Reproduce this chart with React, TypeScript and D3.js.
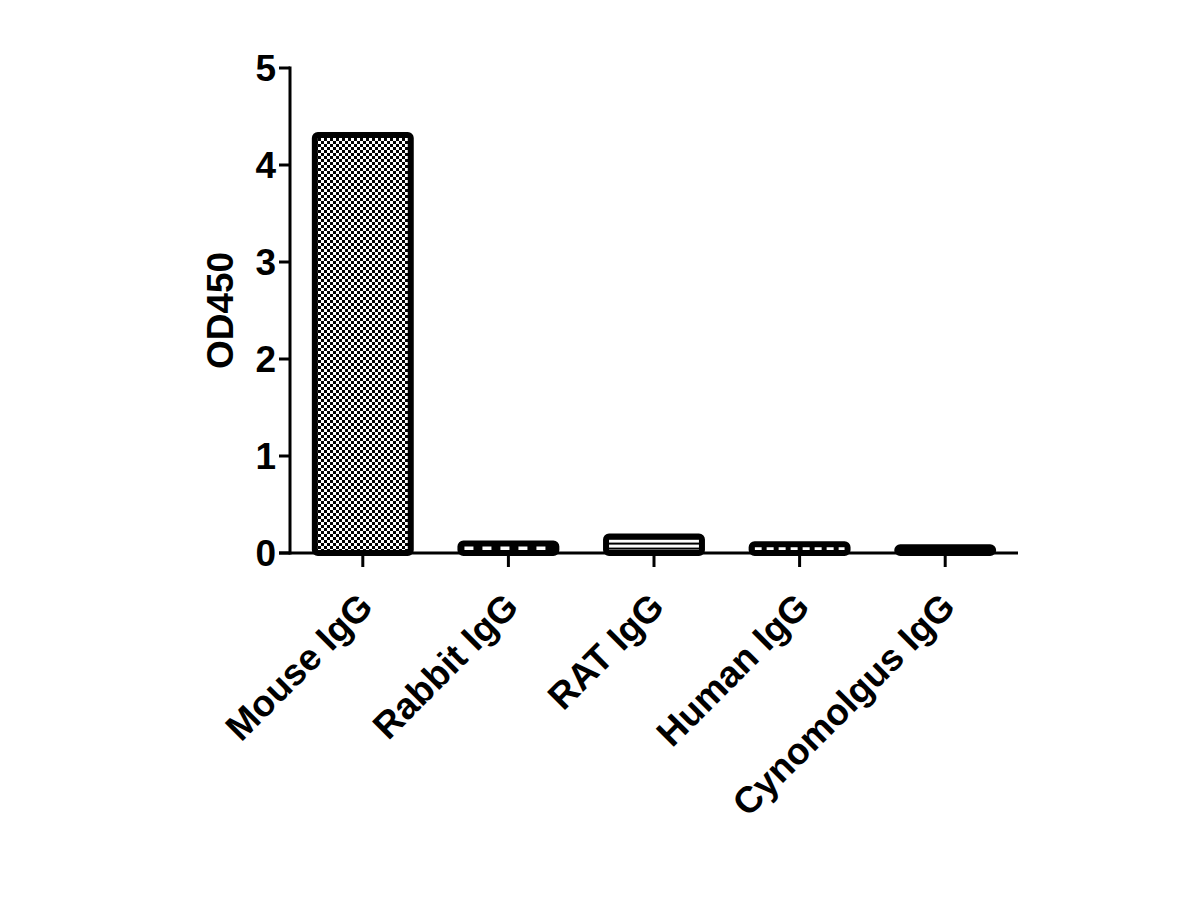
import React from "react";
import * as d3 from "d3";

const categories = ["Mouse IgG", "Rabbit IgG", "RAT IgG", "Human IgG", "Cynomolgus IgG"];
const values = [4.34, 0.13, 0.2, 0.12, 0.09];
const yTicks = [0, 1, 2, 3, 4, 5];
const patterns = ["checker", "dashWide", "stripes", "dashNarrow", "solid"];

export default function App() {
  const W = 1200, H = 900;
  const x0 = 290, x1 = 1018, y0 = 553, y1 = 68;
  const x = d3.scaleBand<string>().domain(categories).range([x0, x1]).paddingInner(0.3).paddingOuter(0.15);
  const y = d3.scaleLinear().domain([0, 5]).range([y0, y1]);
  const font = "'Liberation Sans', Arial, sans-serif";
  const sw = 6;
  const fs = 37;

  const fillFor = (p: string) => (p === "solid" ? "#000" : `url(#${p})`);

  return (
    <svg width={W} height={H} style={{ position: "absolute", left: 0, top: 0, background: "#fff" }}>
      <defs>
        <pattern id="checker" width={6} height={6} patternUnits="userSpaceOnUse">
          <rect width={6} height={6} fill="#fff" />
          <rect x={0} y={0} width={3} height={3} fill="#000" />
          <rect x={3} y={3} width={3} height={3} fill="#000" />
        </pattern>
        <pattern id="dashWide" width={18} height={40} patternUnits="userSpaceOnUse" x={x(categories[1])! + 3}>
          <rect width={18} height={40} fill="#000" />
          <rect x={4} y={0} width={9} height={40} fill="#fff" />
        </pattern>
        <pattern id="stripes" width={20} height={5} patternUnits="userSpaceOnUse" y={y(values[2]) + 1}>
          <rect width={20} height={5} fill="#fff" />
          <rect x={0} y={3} width={20} height={2} fill="#000" />
        </pattern>
        <pattern id="dashNarrow" width={12} height={40} patternUnits="userSpaceOnUse" x={x(categories[3])! + 3}>
          <rect width={12} height={40} fill="#000" />
          <rect x={3} y={0} width={7} height={40} fill="#fff" />
        </pattern>
      </defs>

      {categories.map((c, i) => {
        const bx = x(c)!;
        const bw = x.bandwidth();
        const top = y(values[i]);
        return (
          <rect
            key={c}
            x={bx + sw / 2}
            y={top + sw / 2}
            width={bw - sw}
            height={Math.max(0.5, y0 - top - sw / 2)}
            fill={fillFor(patterns[i])}
            stroke="#000"
            strokeWidth={sw}
            rx={3}
          />
        );
      })}

      {/* y axis */}
      <line x1={x0} x2={x0} y1={y1 - 1.5} y2={y0 + 1.5} stroke="#000" strokeWidth={3} />
      {yTicks.map((t) => (
        <g key={t}>
          <line x1={x0 - 11} x2={x0} y1={y(t)} y2={y(t)} stroke="#000" strokeWidth={3} />
          <text x={x0 - 14} y={y(t)} dy="0.36em" textAnchor="end" fontFamily={font} fontWeight="bold" fontSize={fs}>
            {t}
          </text>
        </g>
      ))}
      <text
        transform={`translate(233, ${(y0 + y1) / 2}) rotate(-90)`}
        textAnchor="middle"
        fontFamily={font}
        fontWeight="bold"
        fontSize={fs}
      >
        OD450
      </text>

      {/* x axis */}
      <line x1={x0 - 11} x2={x1} y1={y0} y2={y0} stroke="#000" strokeWidth={3} />
      {categories.map((c) => {
        const cx = x(c)! + x.bandwidth() / 2;
        return (
          <g key={c}>
            <line x1={cx} x2={cx} y1={y0} y2={y0 + 14} stroke="#000" strokeWidth={3} />
            <text
              transform={`translate(${cx + 12}, ${y0 + 56}) rotate(-45)`}
              textAnchor="end"
              fontFamily={font}
              fontWeight="bold"
              fontSize={fs}
            >
              {c}
            </text>
          </g>
        );
      })}
    </svg>
  );
}
